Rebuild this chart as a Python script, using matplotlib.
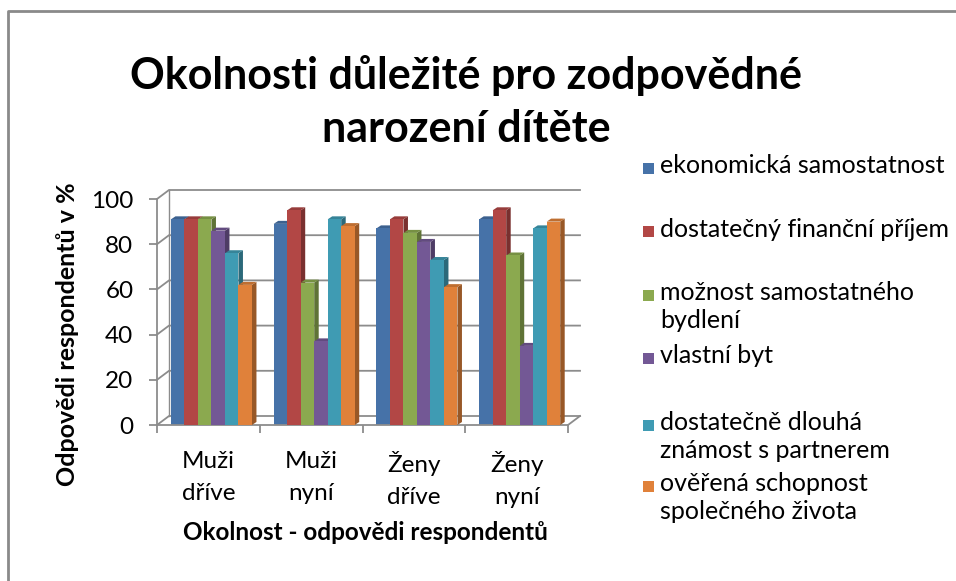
import matplotlib
matplotlib.use('Agg')
import matplotlib.pyplot as plt
from matplotlib.patches import Polygon, Rectangle
import numpy as np

plt.rcParams['font.family'] = ['Lato', 'DejaVu Sans']

categories = ['Muži\ndříve', 'Muži\nnyní', 'Ženy\ndříve', 'Ženy\nnyní']
series_names = ['ekonomická samostatnost',
                'dostatečný finanční příjem',
                'možnost samostatného\nbydlení',
                'vlastní byt',
                'dostatečně dlouhá\nznámost s partnerem',
                'ověřená schopnost\nspolečného života']
ekonomicka = [91, 89, 87, 91]
prijem = [91, 95, 91, 95]
bydleni = [91, 63, 85, 75]
byt = [86, 37, 81, 35]
znamost = [76, 91, 73, 87]
schopnost = [62, 88, 61, 90]
values = [ekonomicka, prijem, bydleni, byt, znamost, schopnost]
colors = ['#4672A8', '#B24745', '#8BA94F', '#735895', '#3F9BB3', '#E0813A']
yticks = [0, 20, 40, 60, 80, 100]

W, H = 956, 581
fig = plt.figure(figsize=(W / 100, H / 100), dpi=100)


def fx(px):
    return px / W


def fy(py):
    return 1 - py / H


# axes placed so that the front axis starts at pixel x=157, y=425
px_per_cat = 102.75
px_per_unit = 2.26
ax_left, ax_right, ax_bottom, ax_top = 157, 585, 425, 180
ax = fig.add_axes([fx(ax_left), fy(ax_bottom), (ax_right - ax_left) / W, (ax_bottom - ax_top) / H])
ax.set_xlim(-0.5, -0.5 + (ax_right - ax_left) / px_per_cat)
ax.set_ylim(0, (ax_bottom - ax_top) / px_per_unit)

# 3d offsets in data units
wall_dx, wall_dy = 12 / px_per_cat, 9 / px_per_unit
side_dx, top_dy = 4.5 / px_per_cat, 3 / px_per_unit
grid_col = '#8c8c8c'

# back wall gridlines + side wall diagonals
for v in yticks:
    ax.plot([-0.5, -0.5 + wall_dx, 3.5 + wall_dx], [v, v + wall_dy, v + wall_dy],
            color=grid_col, lw=1.3, zorder=1, clip_on=False)
ax.plot([-0.5 + wall_dx, -0.5 + wall_dx], [wall_dy, 100 + wall_dy], color=grid_col, lw=1.0, zorder=1)
ax.plot([3.5, 3.5 + wall_dx], [0, wall_dy], color=grid_col, lw=1.3, zorder=1, clip_on=False)

# bars with a fake 3d side and top
n = len(values)
bw = 13.5 / px_per_cat
x = np.arange(len(categories))
shift = 0.03
for i, (vals, c) in enumerate(zip(values, colors)):
    lefts = x - n * bw / 2 + i * bw + shift
    dark = tuple(np.array(matplotlib.colors.to_rgb(c)) * 0.68)
    light = tuple(np.array(matplotlib.colors.to_rgb(c)) * 0.85)
    for l, v in zip(lefts, vals):
        side = Polygon([(l + bw, 0), (l + bw + side_dx, top_dy), (l + bw + side_dx, v + top_dy), (l + bw, v)],
                       closed=True, facecolor=dark, edgecolor='none', zorder=2 + i)
        top = Polygon([(l, v), (l + side_dx, v + top_dy), (l + bw + side_dx, v + top_dy), (l + bw, v)],
                      closed=True, facecolor=light, edgecolor='none', zorder=2 + i)
        ax.add_patch(side)
        ax.add_patch(top)
    ax.bar(lefts, vals, width=bw, align='edge', color=c, edgecolor='none', zorder=2 + i)

# axes styling
for s in ['top', 'right']:
    ax.spines[s].set_visible(False)
ax.spines['left'].set_color(grid_col)
ax.spines['left'].set_linewidth(1.3)
ax.spines['left'].set_bounds(0, 100)
ax.spines['bottom'].set_color(grid_col)
ax.spines['bottom'].set_linewidth(1.3)
ax.spines['bottom'].set_bounds(-0.5, 3.5)
ax.set_yticks(yticks)
ax.set_yticklabels([str(t) for t in yticks], fontsize=17.5)
ax.tick_params(axis='y', colors=grid_col, labelcolor='black', length=6, width=1.3, pad=11)
ax.set_xticks(x)
ax.set_xticklabels(categories, fontsize=17.5, linespacing=1.6)
ax.tick_params(axis='x', which='major', length=0, pad=19)
ax.set_xticks(np.arange(-0.5, 4, 1), minor=True)
ax.tick_params(axis='x', which='minor', colors=grid_col, length=6, width=1.3)

# titles
fig.text(fx(466), fy(102), 'Okolnosti důležité pro zodpovědné\nnarození dítěte', ha='center', va='center',
         fontsize=31, fontweight='bold', linespacing=1.4)
fig.text(fx(68), fy(334), 'Odpovědi respondentů v %', rotation=90, ha='center', va='center',
         fontsize=18, fontweight='bold')
fig.text(fx(365), fy(533), 'Okolnost - odpovědi respondentů', ha='center', va='center',
         fontsize=17.5, fontweight='bold')

# legend, laid out like the Excel one
legend_y = [168, 232, 295, 358, 425, 486]
for name, c, ly in zip(series_names, colors, legend_y):
    fig.patches.append(Rectangle((fx(643), fy(ly + 5.5)), 11 / W, 11 / H, transform=fig.transFigure,
                                 facecolor=c, edgecolor='none'))
    fig.text(fx(660), fy(ly - 14), name, ha='left', va='top', fontsize=18, linespacing=1.25)

# chart border (only left and top visible)
fig.add_artist(plt.Line2D([fx(8), fx(8), fx(960)], [fy(600), fy(11), fy(11)],
                          transform=fig.transFigure, color='#8a8a8a', lw=2))

fig.savefig('out.png', dpi=100)
